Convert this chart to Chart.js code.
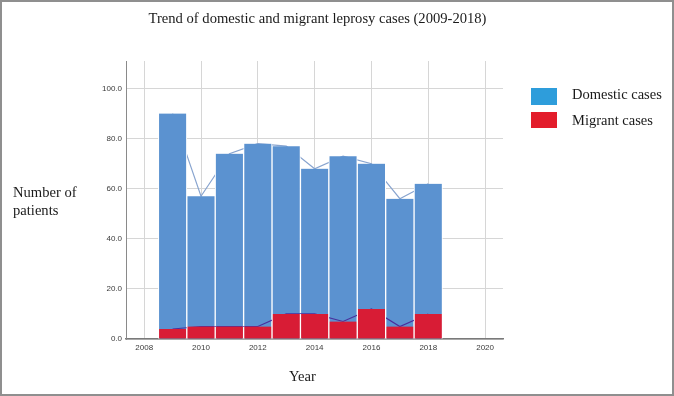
<!DOCTYPE html>
<html><head><meta charset="utf-8">
<script src="https://cdn.jsdelivr.net/npm/chart.js@4"></script>
<style>
html,body{margin:0;padding:0;background:#fff;}
#wrap{position:relative;width:674px;height:396px;overflow:hidden;background:#fff;}
#c{position:absolute;left:0;top:0;}
.t{position:absolute;font-family:'Liberation Serif','Times New Roman',serif;color:#1a1a1a;white-space:nowrap;line-height:1;font-size:14.6px;}
.sw{position:absolute;width:26px;height:17px;}
#frame{position:absolute;left:0;top:0;width:674px;height:396px;box-sizing:border-box;border:2px solid #8f8f8f;pointer-events:none;}
</style></head>
<body><div id="wrap">
<canvas id="c" width="674" height="396"></canvas>
<div class="t" id="title" style="left:0;width:635px;text-align:center;top:11px;"></div>
<div class="t" id="ytitle" style="left:13px;top:182.5px;line-height:18.3px;"></div>
<div class="t" id="xtitle" style="left:289px;top:369px;"></div>
<div class="sw" style="left:531px;top:88px;background:#2e9ddb;"></div>
<div class="sw" style="left:531px;top:112px;height:16px;background:#e31d2b;"></div>
<div class="t" id="leg0" style="left:572px;top:86.6px;font-size:14.5px;"></div>
<div class="t" id="leg1" style="left:572px;top:112.6px;font-size:14.5px;"></div>
<div id="frame"></div>
</div>
<script>
const chartTitle = 'Trend of domestic and migrant leprosy cases (2009-2018)';
const yAxisTitle = ['Number of', 'patients'];
const xAxisTitle = 'Year';
const seriesNames = ['Domestic cases', 'Migrant cases'];
const years = [2009, 2010, 2011, 2012, 2013, 2014, 2015, 2016, 2017, 2018];
const domesticCases = [90, 57, 74, 78, 77, 68, 73, 70, 56, 62];
const migrantCases = [4, 5, 5, 5, 10, 10, 7, 12, 5, 10];
const xTickValues = [2008, 2010, 2012, 2014, 2016, 2018, 2020];
const yTickValues = [0, 20, 40, 60, 80, 100];

document.getElementById('title').textContent = chartTitle;
document.getElementById('ytitle').innerHTML = yAxisTitle.join('<br>');
document.getElementById('xtitle').textContent = xAxisTitle;
document.getElementById('leg0').textContent = seriesNames[0];
document.getElementById('leg1').textContent = seriesNames[1];

const toPoints = arr => years.map((yr, i) => ({x: yr, y: arr[i]}));
const barSide = {left: 1, right: 1, top: 0, bottom: 0};

new Chart(document.getElementById('c'), {
  type: 'bar',
  data: {
    datasets: [
      {type: 'line', label: seriesNames[0] + ' trend', data: toPoints(domesticCases),
        borderColor: '#88a4cf', borderWidth: 1.2, pointRadius: 0, tension: 0, order: 4},
      {type: 'bar', label: seriesNames[0], data: toPoints(domesticCases),
        backgroundColor: '#5b92d0', borderColor: '#ffffff', borderWidth: barSide,
        grouped: false, barPercentage: 1, categoryPercentage: 1, order: 3},
      {type: 'line', label: seriesNames[1] + ' trend', data: toPoints(migrantCases),
        borderColor: '#4a2f9c', borderWidth: 1.2, pointRadius: 0, tension: 0, order: 2},
      {type: 'bar', label: seriesNames[1], data: toPoints(migrantCases),
        backgroundColor: '#d81c35', borderColor: '#ffffff', borderWidth: barSide,
        grouped: false, barPercentage: 1, categoryPercentage: 1, order: 1}
    ]
  },
  options: {
    responsive: false,
    animation: false,
    devicePixelRatio: 1,
    layout: {padding: {left: 96, right: 171, top: 61, bottom: 0}},
    plugins: {legend: {display: false}, tooltip: {enabled: false}, title: {display: false}},
    scales: {
      x: {
        type: 'linear', min: 2007.36, max: 2020.63, offset: false,
        afterBuildTicks: s => { s.ticks = xTickValues.map(v => ({value: v})); },
        afterFit: s => { s.height = 57; },
        ticks: {callback: v => String(v), font: {family: "'Liberation Sans', Arial, sans-serif", size: 8},
          color: '#3a3a3a', padding: 4, maxRotation: 0, autoSkip: false},
        grid: {color: '#d6d6d6', drawTicks: false, lineWidth: 1, offset: false},
        border: {color: '#7a7a7a', width: 1.5}
      },
      y: {
        min: 0, max: 111,
        afterBuildTicks: s => { s.ticks = yTickValues.map(v => ({value: v})); },
        afterFit: s => { s.width = 30; },
        ticks: {callback: v => Number(v).toFixed(1), font: {family: "'Liberation Sans', Arial, sans-serif", size: 8},
          color: '#3a3a3a', padding: 4},
        grid: {color: '#d6d6d6', drawTicks: false, lineWidth: 1},
        border: {color: '#8a8a8a', width: 1}
      }
    }
  }
});
</script>
</body></html>
